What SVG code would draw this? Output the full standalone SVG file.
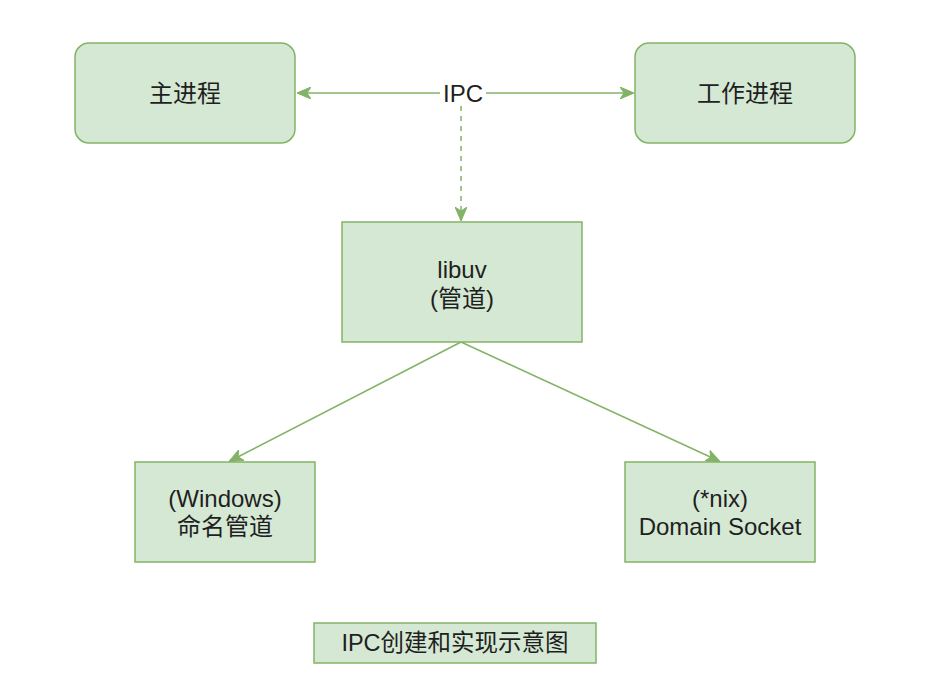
<svg xmlns="http://www.w3.org/2000/svg" width="942" height="694" viewBox="0 0 942 694">
<style>
.node{fill:#d5e8d4;stroke:#82b366;stroke-width:1.5}
.t{font-family:"Liberation Sans","Noto Sans CJK SC",sans-serif;font-size:24px;fill:#1f1f1f;text-anchor:middle}
.cap{font-size:23.5px}
.edge{stroke:#82b366;stroke-width:1.5;fill:none}
.dash{stroke-dasharray:5 5}
</style>
<defs>
<marker id="arr" viewBox="0 0 14 12" refX="13" refY="6" markerWidth="14" markerHeight="12" markerUnits="userSpaceOnUse" orient="auto">
<path d="M0,0 L14,6 L0,12 L4,6 Z" fill="#82b366" stroke="#82b366" stroke-width="1"/>
</marker>
</defs>
<rect width="942" height="694" fill="#ffffff"/>
<g id="connectors">
<line class="edge" x1="440" y1="93" x2="298" y2="93" marker-end="url(#arr)"/>
<line class="edge" x1="486" y1="93" x2="633" y2="93" marker-end="url(#arr)"/>
<line class="edge dash" x1="461" y1="106" x2="461" y2="220" marker-end="url(#arr)"/>
<line class="edge" x1="461" y1="342" x2="230" y2="461" marker-end="url(#arr)"/>
<line class="edge" x1="461" y1="342" x2="719" y2="461" marker-end="url(#arr)"/>
<text class="t" x="463" y="102">IPC</text>
</g>
<g id="main">
<rect class="node" x="75" y="43" width="220" height="100" rx="14"/>
<text class="t" x="185" y="102">主进程</text>
</g>
<g id="worker">
<rect class="node" x="635" y="43" width="220" height="100" rx="14"/>
<text class="t" x="745" y="102">工作进程</text>
</g>
<g id="libuv">
<rect class="node" x="342" y="222" width="240" height="120"/>
<text class="t" x="462" y="278">libuv</text>
<text class="t" x="462" y="307">(管道)</text>
</g>
<g id="windows">
<rect class="node" x="135" y="462" width="180" height="100"/>
<text class="t" x="225" y="507">(Windows)</text>
<text class="t" x="225" y="535">命名管道</text>
</g>
<g id="nix">
<rect class="node" x="625" y="462" width="190" height="100"/>
<text class="t" x="720" y="507">(*nix)</text>
<text class="t" x="720" y="535">Domain Socket</text>
</g>
<g id="caption">
<rect class="node" x="314" y="623" width="282" height="40"/>
<text class="t cap" x="455" y="651">IPC创建和实现示意图</text>
</g>
</svg>
